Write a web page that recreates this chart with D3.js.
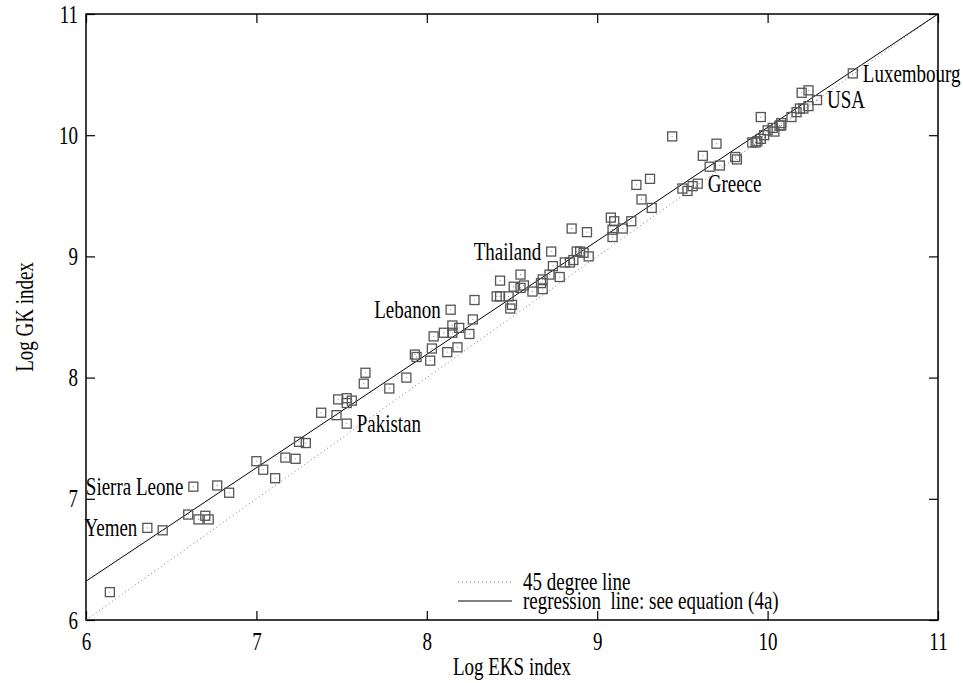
<!DOCTYPE html>
<html>
<head>
<meta charset="utf-8">
<script src="https://cdn.jsdelivr.net/npm/d3@7"></script>
<style>
    body { margin: 0; background: #fff; }
    svg { display: block; font-family: "Liberation Serif", "Times New Roman", serif; }
</style>
</head>
<body>
<div id="chart"></div>
<script>
// Data: log EKS (x) and log GK (y) per country
const eks = [
    6.14, 6.36, 6.45, 6.60, 6.63, 6.66, 6.70, 6.72, 6.77, 6.84,
    7.00, 7.04, 7.11, 7.17, 7.23, 7.25, 7.29, 7.38, 7.47, 7.48,
    7.53, 7.53, 7.53, 7.56, 7.64, 7.63, 7.78, 7.88, 7.93, 7.94,
    8.02, 8.03, 8.04, 8.10, 8.12, 8.14, 8.15, 8.15, 8.18, 8.19,
    8.25, 8.27, 8.28, 8.41, 8.43, 8.43, 8.48, 8.50, 8.49, 8.51,
    8.55, 8.55, 8.57, 8.62, 8.67, 8.68, 8.68, 8.72, 8.73, 8.74,
    8.78, 8.81, 8.84, 8.86, 8.88, 8.90, 8.92, 8.95, 8.85, 8.94,
    9.08, 9.10, 9.09, 9.09, 9.15, 9.20, 9.23, 9.26, 9.31, 9.32,
    9.44, 9.50, 9.53, 9.56, 9.59, 9.62, 9.66, 9.72, 9.70, 9.81,
    9.82, 9.91, 9.93, 9.94, 9.96, 9.96, 9.98, 10.00, 10.03, 10.04,
    10.07, 10.08, 10.08, 10.14, 10.17, 10.19, 10.21, 10.24, 10.20, 10.24,
    10.29, 10.50
];
const gk = [
    6.23, 6.76, 6.74, 6.87, 7.10, 6.83, 6.86, 6.83, 7.11, 7.05,
    7.31, 7.24, 7.17, 7.34, 7.33, 7.47, 7.46, 7.71, 7.69, 7.82,
    7.83, 7.79, 7.62, 7.81, 8.04, 7.95, 7.91, 8.00, 8.19, 8.17,
    8.14, 8.24, 8.34, 8.37, 8.21, 8.56, 8.43, 8.37, 8.25, 8.41,
    8.36, 8.48, 8.64, 8.67, 8.67, 8.80, 8.67, 8.60, 8.57, 8.75,
    8.85, 8.74, 8.76, 8.71, 8.78, 8.81, 8.73, 8.85, 9.04, 8.92,
    8.83, 8.95, 8.95, 8.97, 9.04, 9.04, 9.03, 9.00, 9.23, 9.20,
    9.32, 9.29, 9.22, 9.16, 9.23, 9.29, 9.59, 9.47, 9.64, 9.40,
    9.99, 9.56, 9.54, 9.58, 9.60, 9.83, 9.74, 9.75, 9.93, 9.82,
    9.80, 9.94, 9.94, 9.95, 9.97, 10.15, 10.00, 10.04, 10.06, 10.03,
    10.08, 10.10, 10.08, 10.15, 10.19, 10.22, 10.22, 10.24, 10.35, 10.37,
    10.29, 10.51
];

const countryNames = ['Luxembourg', 'USA', 'Greece', 'Thailand', 'Lebanon', 'Pakistan', 'Sierra Leone', 'Yemen'];
const countryEks = [10.50, 10.29, 9.59, 8.73, 8.14, 7.53, 6.63, 6.36];
const countryGk = [10.51, 10.29, 9.60, 9.04, 8.56, 7.62, 7.10, 6.76];
const labelOnRight = ['Luxembourg', 'USA', 'Greece', 'Pakistan'];

const xTicks = [6, 7, 8, 9, 10, 11];
const yTicks = [6, 7, 8, 9, 10, 11];

// regression line endpoints (x, y)
const regX = [6, 11];
const regY = [6.32, 11];

const legendLabels = ['45 degree line', 'regression\u00a0 line: see equation (4a)'];

// Dimensions
const width = 963;
const height = 683;
const margin = { top: 14, right: 25, bottom: 63, left: 86 };

// the source picture has tall, narrow type
const stretch = 1.3;
const fontSize = 19;
const midShift = 0.33 * fontSize * stretch;

const svg = d3.select('#chart')
    .append('svg')
    .attr('width', width)
    .attr('height', height);

const xScale = d3.scaleLinear().domain([6, 11]).range([margin.left, width - margin.right]);
const yScale = d3.scaleLinear().domain([6, 11]).range([height - margin.bottom, margin.top]);

const x0 = xScale.range()[0], x1 = xScale.range()[1];
const y0 = yScale.range()[0], y1 = yScale.range()[1];

// Axes (inward ticks, labels outside)
const tickLen = 9;
const axisStyle = (g) => {
    g.select('.domain').remove();
    g.selectAll('line').attr('stroke', '#000').attr('stroke-width', 1.2);
    g.selectAll('text').attr('fill', '#000').style('font-size', fontSize + 'px')
        .style('font-family', '"Liberation Serif", serif');
};

svg.append('g')
    .attr('transform', `translate(0, ${y0})`)
    .call(d3.axisBottom(xScale).tickValues(xTicks).tickSizeInner(-tickLen).tickSizeOuter(0).tickFormat(d3.format('d')))
    .call(axisStyle)
    .call(g => g.selectAll('text')
        .attr('y', 0).attr('dy', null)
        .attr('transform', `translate(0, 30) scale(1, ${stretch})`));

svg.append('g')
    .attr('transform', `translate(0, ${y1})`)
    .call(d3.axisTop(xScale).tickValues(xTicks).tickSizeInner(-tickLen).tickSizeOuter(0).tickFormat(''))
    .call(axisStyle);

svg.append('g')
    .attr('transform', `translate(${x0}, 0)`)
    .call(d3.axisLeft(yScale).tickValues(yTicks).tickSizeInner(-tickLen).tickSizeOuter(0).tickPadding(8).tickFormat(d3.format('d')))
    .call(axisStyle)
    .call(g => g.selectAll('text')
        .attr('y', 0).attr('dy', null)
        .attr('transform', `translate(0, ${midShift}) scale(1, ${stretch})`));

svg.append('g')
    .attr('transform', `translate(${x1}, 0)`)
    .call(d3.axisRight(yScale).tickValues(yTicks).tickSizeInner(-tickLen).tickSizeOuter(0).tickFormat(''))
    .call(axisStyle);

// Frame
svg.append('rect')
    .attr('x', x0).attr('y', y1)
    .attr('width', x1 - x0).attr('height', y0 - y1)
    .attr('fill', 'none')
    .attr('stroke', '#000')
    .attr('stroke-width', 1.5);

// Axis titles
svg.append('text')
    .attr('transform', `translate(${(x0 + x1) / 2}, 675) scale(1, ${stretch})`)
    .attr('text-anchor', 'middle')
    .style('font-size', fontSize + 'px')
    .text('Log EKS index');

svg.append('text')
    .attr('transform', `translate(33, ${(y0 + y1) / 2}) rotate(-90) scale(1, ${stretch})`)
    .attr('text-anchor', 'middle')
    .style('font-size', fontSize + 'px')
    .text('Log GK index');

// 45 degree line
svg.append('line')
    .attr('x1', xScale(6)).attr('y1', yScale(6))
    .attr('x2', xScale(11)).attr('y2', yScale(11))
    .attr('stroke', '#777')
    .attr('stroke-width', 1)
    .attr('stroke-dasharray', '1,3');

// Regression line
svg.append('line')
    .attr('x1', xScale(regX[0])).attr('y1', yScale(regY[0]))
    .attr('x2', xScale(regX[1])).attr('y2', yScale(regY[1]))
    .attr('stroke', '#000')
    .attr('stroke-width', 1);

// Points
const points = eks.map((x, i) => ({ x, y: gk[i] }));
const sq = 9;
const pts = svg.append('g')
    .selectAll('g')
    .data(points)
    .join('g')
    .attr('transform', d => `translate(${xScale(d.x)}, ${yScale(d.y)})`);

pts.append('rect')
    .attr('x', -sq / 2).attr('y', -sq / 2)
    .attr('width', sq).attr('height', sq)
    .attr('fill', 'none')
    .attr('stroke', '#555')
    .attr('stroke-width', 1.3);

pts.append('rect')
    .attr('x', -0.5).attr('y', -0.5)
    .attr('width', 1).attr('height', 1)
    .attr('fill', '#888');

// Country labels
const labels = countryNames.map((name, i) => ({ name, x: countryEks[i], y: countryGk[i] }));
svg.append('g')
    .selectAll('text')
    .data(labels)
    .join('text')
    .attr('transform', d => {
        const right = labelOnRight.includes(d.name);
        return `translate(${xScale(d.x) + (right ? 10 : -10)}, ${yScale(d.y) + midShift}) scale(1, ${stretch})`;
    })
    .attr('text-anchor', d => labelOnRight.includes(d.name) ? 'start' : 'end')
    .style('font-size', fontSize + 'px')
    .text(d => d.name);

// Legend
const legend = svg.append('g');
legendLabels.forEach((label, i) => {
    const ly = 582 + i * 19;
    legend.append('line')
        .attr('x1', 458).attr('x2', 512)
        .attr('y1', ly).attr('y2', ly)
        .attr('stroke', i === 0 ? '#777' : '#000')
        .attr('stroke-width', 1)
        .attr('stroke-dasharray', i === 0 ? '1,3' : null);
    legend.append('text')
        .attr('transform', `translate(523, ${ly + midShift}) scale(1, ${stretch})`)
        .style('font-size', fontSize + 'px')
        .text(label);
});
</script>
</body>
</html>
